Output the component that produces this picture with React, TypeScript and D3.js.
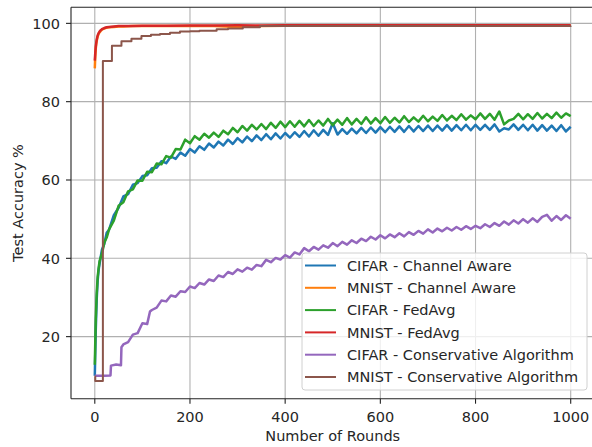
import React from 'react';
import * as d3 from 'd3';

const cifarRounds = [0, 2, 4, 6, 8, 10, 15, 20, 25, 30, 40, 50, 60, 70, 80, 90,
  100, 110, 120, 130, 140, 150, 160, 170, 180, 190, 200, 210, 220, 230, 240, 250, 260, 270, 280, 290,
  300, 310, 320, 330, 340, 350, 360, 370, 380, 390, 400, 410, 420, 430, 440, 450, 460, 470, 480, 490,
  500, 510, 520, 530, 540, 550, 560, 570, 580, 590, 600, 610, 620, 630, 640, 650, 660, 670, 680, 690,
  700, 710, 720, 730, 740, 750, 760, 770, 780, 790, 800, 810, 820, 830, 840, 850, 860, 870, 880, 890,
  900, 910, 920, 930, 940, 950, 960, 970, 980, 990, 1000];

const cifarChannelAware = [10, 21.5, 29.5, 34.3, 37.0, 38.6, 42.2, 43.7, 46.5, 47.3, 51.0, 52.9, 55.8, 56.4, 58.8, 59.2,
  61.0, 61.2, 63.0, 63.1, 64.8, 64.3, 66.0, 65.4, 67.0, 66.2, 67.9, 67.0, 68.6, 67.7, 69.3, 68.3, 69.8, 68.8, 70.3, 69.2,
  70.7, 69.6, 71.1, 69.9, 71.4, 70.2, 71.7, 70.4, 71.9, 70.6, 72.0, 70.8, 72.2, 71.0, 72.5, 71.1, 72.7, 71.3, 72.8, 71.5,
  74.5, 71.6, 73.0, 71.8, 73.1, 71.9, 73.3, 72.0, 73.4, 72.1, 73.5, 72.2, 73.6, 72.3, 73.7, 72.3, 73.8, 72.4, 73.8, 72.5,
  73.9, 72.5, 73.9, 72.6, 74.0, 72.6, 74.0, 72.7, 74.1, 72.7, 74.1, 72.8, 74.1, 72.8, 74.2, 72.4, 73.2, 72.9, 74.2, 72.8,
  74.1, 72.7, 74.1, 72.6, 74.0, 72.6, 73.9, 72.5, 74.0, 72.4, 73.6];

const cifarFedAvg = [12.8, 24.5, 31, 35.2, 37.4, 39.3, 41.2, 44.0, 45.3, 47.4, 49.6, 53.4, 54.3, 57.1, 57.6, 59.9,
  59.8, 62.1, 62.0, 64.2, 64.0, 66.1, 65.7, 67.9, 67.8, 70.3, 69.4, 71.2, 70.3, 71.8, 70.8, 72.1, 71.0, 72.6, 71.7, 73.3,
  72.2, 73.8, 72.6, 74.1, 72.9, 74.3, 73.0, 74.6, 73.3, 74.9, 73.5, 75.0, 73.6, 75.1, 73.7, 75.3, 73.8, 75.2, 73.9, 75.6,
  74.0, 75.4, 74.1, 75.8, 74.2, 75.6, 74.3, 76.0, 74.4, 75.8, 74.5, 76.1, 74.6, 75.9, 74.7, 76.3, 74.8, 76.0, 74.9, 76.4,
  75.0, 76.2, 75.1, 76.6, 75.2, 76.4, 75.3, 76.8, 75.4, 76.5, 75.5, 77.0, 75.6, 76.9, 75.4, 77.5, 74.2, 75.2, 75.6, 76.9,
  75.5, 76.8, 75.6, 77.1, 75.7, 76.9, 75.8, 77.2, 75.9, 77.0, 76.3];

const mnistRounds = [0, 1, 2, 3, 4, 5, 6, 8, 10, 12, 15, 20, 25, 30, 40, 50, 60, 80, 100,
  150, 200, 250, 300, 350, 400, 450, 500, 550, 600, 650, 700, 750, 800, 850, 900, 950, 1000];
const mnistChannelAware = [88.5, 91.5, 93.5, 94.7, 95.5, 96.1, 96.6, 97.3, 97.7, 98.0, 98.4, 98.7, 98.9, 99.0, 99.1, 99.2, 99.2, 99.3, 99.3,
  99.3, 99.3, 99.3, 99.1, 99.3, 99.4, 99.4, 99.4, 99.4, 99.4, 99.4, 99.4, 99.4, 99.4, 99.4, 99.4, 99.4, 99.4];
const mnistFedAvg = [90.5, 92.5, 94.0, 95.0, 95.8, 96.4, 96.9, 97.5, 97.9, 98.2, 98.5, 98.8, 99.0, 99.1, 99.2, 99.3, 99.3, 99.35, 99.4,
  99.4, 99.45, 99.45, 99.5, 99.45, 99.5, 99.5, 99.5, 99.5, 99.5, 99.5, 99.5, 99.5, 99.5, 99.5, 99.5, 99.5, 99.5];

const cifarConsRounds = [0, 10, 20, 33, 34, 45, 55, 56, 60, 70, 80, 90, 100, 110, 116, 120, 130, 140, 150, 160, 170, 180, 190,
  200, 210, 220, 230, 240, 250, 260, 270, 280, 290, 300, 310, 320, 330, 340, 350, 360, 370, 380, 390,
  400, 410, 420, 430, 440, 450, 460, 470, 480, 490, 500, 510, 520, 530, 540, 550, 560, 570, 580, 590,
  600, 610, 620, 630, 640, 650, 660, 670, 680, 690, 700, 710, 720, 730, 740, 750, 760, 770, 780, 790,
  800, 810, 820, 830, 840, 850, 860, 870, 880, 890, 900, 910, 920, 930, 940, 950, 960, 970, 980, 990, 1000];
const cifarConservative = [10.0, 10.0, 10.0, 10.1, 12.6, 12.9, 12.7, 17.3, 18.0, 18.6, 20.5, 20.9, 23.4, 23.2, 26.4, 26.8, 27.4, 29.2, 29.0, 30.5, 30.2, 31.6, 31.4,
  32.8, 32.4, 33.7, 33.3, 34.6, 34.2, 35.6, 35.2, 36.5, 36.0, 37.2, 36.6, 37.6, 37.1, 38.3, 38.0, 39.6, 39.0, 40.1, 39.7,
  40.8, 40.2, 41.5, 41.0, 42.6, 41.8, 42.9, 42.2, 43.3, 42.7, 43.9, 43.1, 44.2, 43.5, 44.6, 43.9, 45.0, 44.4, 45.5, 44.8,
  45.9, 45.1, 46.1, 45.4, 46.4, 45.6, 46.7, 46.0, 47.0, 46.3, 47.4, 46.6, 47.6, 46.9, 47.8, 47.1, 48.0, 47.3, 48.2, 47.5,
  48.3, 47.7, 48.7, 48.0, 49.0, 48.3, 49.4, 48.6, 49.7, 48.9, 50.0, 49.1, 50.2, 49.3, 50.6, 51.1, 49.6, 50.8, 49.8, 51.0, 50.1];

// evaluated in steps, drawn as a staircase
const mnistConsRounds = [0, 1, 17, 36, 56, 77, 98, 118, 137, 158, 179, 200, 220, 256, 280, 311, 347, 1000];
const mnistConservative = [9.8, 8.7, 90.4, 94.3, 95.4, 96.1, 96.8, 97.1, 97.3, 97.6, 97.9, 98.0, 98.1, 98.5, 98.7, 99.0, 99.3, 99.4];

const xTicks = [0, 200, 400, 600, 800, 1000];
const yTicks = [20, 40, 60, 80, 100];

const series = [
  { name: 'CIFAR - Channel Aware', color: '#1f77b4', x: cifarRounds, y: cifarChannelAware, step: false },
  { name: 'MNIST - Channel Aware', color: '#ff7f0e', x: mnistRounds, y: mnistChannelAware, step: false },
  { name: 'CIFAR - FedAvg', color: '#2ca02c', x: cifarRounds, y: cifarFedAvg, step: false },
  { name: 'MNIST - FedAvg', color: '#d62728', x: mnistRounds, y: mnistFedAvg, step: false },
  { name: 'CIFAR - Conservative Algorithm', color: '#9467bd', x: cifarConsRounds, y: cifarConservative, step: false },
  { name: 'MNIST - Conservative Algorithm', color: '#8c564b', x: mnistConsRounds, y: mnistConservative, step: true },
];

const W = 592;
const H = 447;
const left = 71;
const right = 594.5;
const top = 7.3;
const bottom = 398.7;
const font = 'DejaVu Sans, sans-serif';
const fs = 14.5;

export default function App() {
  const x = d3.scaleLinear().domain([-50, 1050]).range([left, right]);
  const y = d3.scaleLinear().domain([4.15, 104.1]).range([bottom, top]);

  const makeLine = (step: boolean) =>
    d3.line<[number, number]>()
      .x(d => x(d[0]))
      .y(d => y(d[1]))
      .curve(step ? d3.curveStepAfter : d3.curveLinear);

  const legX = 302;
  const legY = 253;
  const rowH = 22.3;

  return (
    <svg width={W} height={H} style={{ position: 'absolute', left: 0, top: 0, background: '#fff' }} fontFamily={font}>
      <rect width={W} height={H} fill="#fff" />
      {/* grid */}
      {xTicks.map(t => (
        <line key={'gx' + t} x1={x(t)} x2={x(t)} y1={top} y2={bottom} stroke="#b0b0b0" strokeWidth={1.1} />
      ))}
      {yTicks.map(t => (
        <line key={'gy' + t} x1={left} x2={right} y1={y(t)} y2={y(t)} stroke="#b0b0b0" strokeWidth={1.1} />
      ))}

      {series.map(s => {
        const pts = s.x.map((r, i) => [r, s.y[i]] as [number, number]);
        return (
          <path key={s.name} d={makeLine(s.step)(pts) || ''} fill="none" stroke={s.color}
            strokeWidth={s.step ? 2 : 2.5} strokeLinejoin="round" />
        );
      })}

      {/* spines */}
      <line x1={left} x2={left} y1={top} y2={bottom} stroke="#222" strokeWidth={1.1} />
      <line x1={left} x2={right} y1={bottom} y2={bottom} stroke="#222" strokeWidth={1.1} />
      <line x1={left} x2={right} y1={top} y2={top} stroke="#222" strokeWidth={1.1} />

      {/* ticks */}
      {xTicks.map(t => (
        <g key={'tx' + t}>
          <line x1={x(t)} x2={x(t)} y1={bottom} y2={bottom + 5} stroke="#222" strokeWidth={1.1} />
          <text x={x(t)} y={421.8} textAnchor="middle" fontSize={fs} fill="#262626">{t}</text>
        </g>
      ))}
      {yTicks.map(t => (
        <g key={'ty' + t}>
          <line x1={left - 5} x2={left} y1={y(t)} y2={y(t)} stroke="#222" strokeWidth={1.1} />
          <text x={60} y={y(t) + 5.3} textAnchor="end" fontSize={fs} fill="#262626">{t}</text>
        </g>
      ))}

      <text x={(left + right) / 2} y={441} textAnchor="middle" fontSize={fs} fill="#262626">Number of Rounds</text>
      <text transform={`translate(23, ${(top + bottom) / 2}) rotate(-90)`} textAnchor="middle" fontSize={fs} fill="#262626">
        Test Accuracy %
      </text>

      {/* legend */}
      <rect x={legX} y={legY} width={285} height={137} rx={3} fill="#fff" fillOpacity={0.8} stroke="#d0d0d0" strokeWidth={1} />
      {series.map((s, i) => {
        const cy = 265.5 + i * rowH;
        return (
          <g key={'lg' + s.name}>
            <line x1={305} x2={336} y1={cy} y2={cy} stroke={s.color} strokeWidth={2} />
            <text x={347} y={cy + 5.3} fontSize={fs} fill="#262626">{s.name}</text>
          </g>
        );
      })}
    </svg>
  );
}
